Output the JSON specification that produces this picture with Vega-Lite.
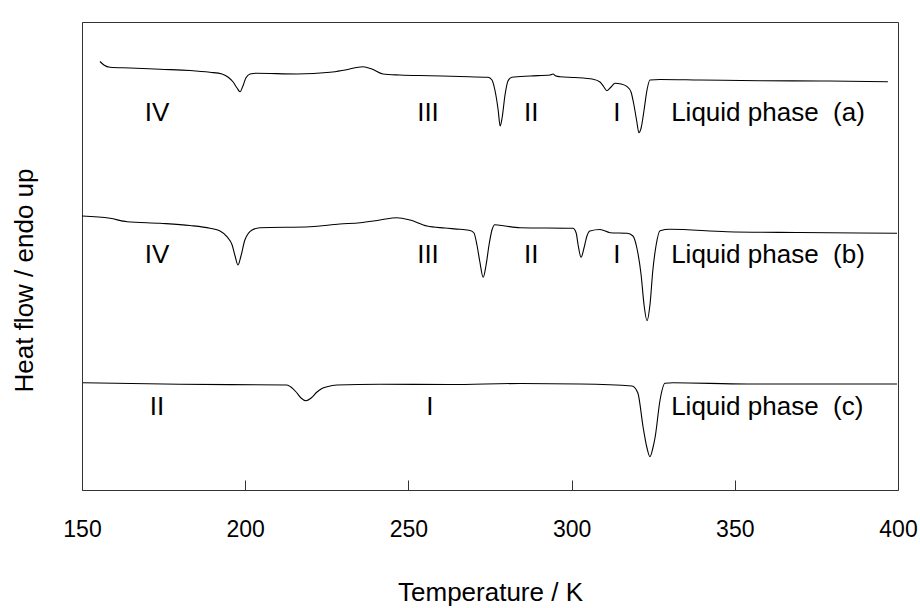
{
  "$schema": "https://vega.github.io/schema/vega-lite/v6.json",
  "width": 816,
  "height": 468,
  "autosize": {"type": "none"},
  "padding": {"left": 82, "top": 22, "right": 22, "bottom": 118},
  "background": "white",
  "config": {
    "view": {"stroke": "#333333", "strokeWidth": 1},
    "font": "Liberation Sans",
    "axis": {"grid": false, "domainColor": "#333333", "tickColor": "#333333", "labelColor": "black", "titleColor": "black", "titleFontWeight": "normal", "labelFont": "Liberation Sans", "titleFont": "Liberation Sans"}
  },
  "datasets": {
    "curves": [
      {"s": "a", "T": 155.5, "v": 428.5}, {"s": "a", "T": 156.7, "v": 425}, {"s": "a", "T": 158.6, "v": 422.7}, {"s": "a", "T": 164.7, "v": 422}, {"s": "a", "T": 173.9, "v": 420.7}, {"s": "a", "T": 183.1, "v": 419.5}, {"s": "a", "T": 189.2, "v": 417.7}, {"s": "a", "T": 192.9, "v": 416}, {"s": "a", "T": 194.7, "v": 413}, {"s": "a", "T": 196.3, "v": 408}, {"s": "a", "T": 197.5, "v": 402}, {"s": "a", "T": 198.4, "v": 398.3}, {"s": "a", "T": 199.3, "v": 404}, {"s": "a", "T": 200.2, "v": 412}, {"s": "a", "T": 201.5, "v": 416}, {"s": "a", "T": 203.3, "v": 416.7}, {"s": "a", "T": 215.9, "v": 416}, {"s": "a", "T": 226.0, "v": 417.7}, {"s": "a", "T": 230.6, "v": 420}, {"s": "a", "T": 236.1, "v": 423.3}, {"s": "a", "T": 238.8, "v": 421}, {"s": "a", "T": 242.2, "v": 416}, {"s": "a", "T": 247.4, "v": 415}, {"s": "a", "T": 256.6, "v": 414.3}, {"s": "a", "T": 265.8, "v": 413.5}, {"s": "a", "T": 274.4, "v": 412.7}, {"s": "a", "T": 275.6, "v": 410}, {"s": "a", "T": 276.5, "v": 400}, {"s": "a", "T": 277.5, "v": 380}, {"s": "a", "T": 278.1, "v": 364}, {"s": "a", "T": 278.7, "v": 372}, {"s": "a", "T": 279.6, "v": 395}, {"s": "a", "T": 280.5, "v": 409}, {"s": "a", "T": 281.7, "v": 412.7}, {"s": "a", "T": 287.3, "v": 414}, {"s": "a", "T": 293.4, "v": 415}, {"s": "a", "T": 294.3, "v": 416}, {"s": "a", "T": 295.2, "v": 414}, {"s": "a", "T": 296.4, "v": 413.3}, {"s": "a", "T": 301.0, "v": 412.5}, {"s": "a", "T": 306.6, "v": 410.7}, {"s": "a", "T": 308.7, "v": 408}, {"s": "a", "T": 309.9, "v": 403}, {"s": "a", "T": 310.8, "v": 399.3}, {"s": "a", "T": 312.1, "v": 403}, {"s": "a", "T": 313.3, "v": 406.7}, {"s": "a", "T": 315.1, "v": 406}, {"s": "a", "T": 317.0, "v": 403.3}, {"s": "a", "T": 318.2, "v": 398}, {"s": "a", "T": 319.1, "v": 385}, {"s": "a", "T": 320.0, "v": 368}, {"s": "a", "T": 320.6, "v": 357.3}, {"s": "a", "T": 321.3, "v": 362}, {"s": "a", "T": 322.2, "v": 380}, {"s": "a", "T": 323.1, "v": 400}, {"s": "a", "T": 324.0, "v": 410}, {"s": "a", "T": 327.1, "v": 410.5}, {"s": "a", "T": 339.3, "v": 410}, {"s": "a", "T": 357.7, "v": 409.3}, {"s": "a", "T": 376.1, "v": 409}, {"s": "a", "T": 396.9, "v": 408.3},
      {"s": "b", "T": 150.0, "v": 274}, {"s": "b", "T": 158.6, "v": 271.7}, {"s": "b", "T": 163.8, "v": 268.3}, {"s": "b", "T": 173.9, "v": 266.7}, {"s": "b", "T": 183.1, "v": 264.5}, {"s": "b", "T": 189.2, "v": 261.7}, {"s": "b", "T": 192.3, "v": 259}, {"s": "b", "T": 194.4, "v": 253.3}, {"s": "b", "T": 196.0, "v": 245}, {"s": "b", "T": 196.9, "v": 234}, {"s": "b", "T": 197.8, "v": 225}, {"s": "b", "T": 198.7, "v": 234}, {"s": "b", "T": 199.9, "v": 250}, {"s": "b", "T": 202.1, "v": 260}, {"s": "b", "T": 204.5, "v": 262.3}, {"s": "b", "T": 219.9, "v": 263.3}, {"s": "b", "T": 229.0, "v": 266}, {"s": "b", "T": 235.2, "v": 267.3}, {"s": "b", "T": 241.3, "v": 270}, {"s": "b", "T": 246.5, "v": 272.3}, {"s": "b", "T": 250.5, "v": 270}, {"s": "b", "T": 255.7, "v": 264}, {"s": "b", "T": 261.2, "v": 262}, {"s": "b", "T": 265.8, "v": 260.7}, {"s": "b", "T": 268.9, "v": 259.5}, {"s": "b", "T": 270.1, "v": 257}, {"s": "b", "T": 271.0, "v": 245}, {"s": "b", "T": 271.9, "v": 228}, {"s": "b", "T": 272.9, "v": 212.7}, {"s": "b", "T": 273.8, "v": 225}, {"s": "b", "T": 274.7, "v": 245}, {"s": "b", "T": 275.6, "v": 260}, {"s": "b", "T": 276.5, "v": 265.3}, {"s": "b", "T": 279.6, "v": 264}, {"s": "b", "T": 284.2, "v": 262.3}, {"s": "b", "T": 300.4, "v": 261.7}, {"s": "b", "T": 301.4, "v": 257}, {"s": "b", "T": 302.0, "v": 245}, {"s": "b", "T": 302.9, "v": 232.7}, {"s": "b", "T": 303.8, "v": 242}, {"s": "b", "T": 304.7, "v": 254}, {"s": "b", "T": 305.6, "v": 259}, {"s": "b", "T": 308.7, "v": 260.5}, {"s": "b", "T": 311.8, "v": 257.3}, {"s": "b", "T": 317.0, "v": 256.7}, {"s": "b", "T": 318.8, "v": 254}, {"s": "b", "T": 320.0, "v": 242}, {"s": "b", "T": 321.3, "v": 215}, {"s": "b", "T": 322.2, "v": 185}, {"s": "b", "T": 323.1, "v": 169.3}, {"s": "b", "T": 324.0, "v": 185}, {"s": "b", "T": 324.9, "v": 220}, {"s": "b", "T": 325.9, "v": 245}, {"s": "b", "T": 327.1, "v": 259.3}, {"s": "b", "T": 330.1, "v": 260.7}, {"s": "b", "T": 347.6, "v": 258.3}, {"s": "b", "T": 370.0, "v": 257.5}, {"s": "b", "T": 399.7, "v": 256.7},
      {"s": "c", "T": 150.3, "v": 107.3}, {"s": "c", "T": 180.0, "v": 105.7}, {"s": "c", "T": 212.8, "v": 105}, {"s": "c", "T": 214.0, "v": 103}, {"s": "c", "T": 215.6, "v": 98}, {"s": "c", "T": 217.1, "v": 92}, {"s": "c", "T": 218.6, "v": 89.3}, {"s": "c", "T": 220.2, "v": 92}, {"s": "c", "T": 222.0, "v": 98}, {"s": "c", "T": 223.5, "v": 101.5}, {"s": "c", "T": 225.1, "v": 103.3}, {"s": "c", "T": 228.1, "v": 105}, {"s": "c", "T": 241.3, "v": 105.7}, {"s": "c", "T": 262.7, "v": 105.5}, {"s": "c", "T": 284.2, "v": 106.5}, {"s": "c", "T": 302.6, "v": 106}, {"s": "c", "T": 318.5, "v": 104}, {"s": "c", "T": 320.3, "v": 97}, {"s": "c", "T": 321.9, "v": 63}, {"s": "c", "T": 323.1, "v": 42}, {"s": "c", "T": 324.0, "v": 33.3}, {"s": "c", "T": 324.9, "v": 42}, {"s": "c", "T": 325.6, "v": 53}, {"s": "c", "T": 327.1, "v": 90}, {"s": "c", "T": 328.6, "v": 106.7}, {"s": "c", "T": 331.1, "v": 107.3}, {"s": "c", "T": 353.7, "v": 106}, {"s": "c", "T": 399.7, "v": 106}
    ],
    "labels": [
      {"T": 173.0, "v": 377, "text": "IV"},
      {"T": 256.0, "v": 377, "text": "III"},
      {"T": 287.6, "v": 377, "text": "II"},
      {"T": 313.9, "v": 377, "text": "I"},
      {"T": 173.0, "v": 235, "text": "IV"},
      {"T": 256.0, "v": 235, "text": "III"},
      {"T": 287.6, "v": 235, "text": "II"},
      {"T": 313.9, "v": 235, "text": "I"},
      {"T": 173.0, "v": 83, "text": "II"},
      {"T": 256.6, "v": 83, "text": "I"}
    ],
    "liquid": [
      {"T": 330.5, "v": 377, "text": "Liquid phase\u00a0 (a)"},
      {"T": 330.5, "v": 235, "text": "Liquid phase\u00a0 (b)"},
      {"T": 330.5, "v": 83, "text": "Liquid phase\u00a0 (c)"}
    ]
  },
  "layer": [
    {
      "data": {"name": "curves"},
      "mark": {"type": "line", "color": "black", "strokeWidth": 1.1, "interpolate": "monotone"},
      "encoding": {
        "x": {"field": "T", "type": "quantitative", "scale": {"domain": [150, 400], "nice": false},
          "axis": {"title": "Temperature / K", "values": [150, 200, 250, 300, 350, 400], "offset": -10, "domain": false, "tickSize": 10, "labelPadding": 46, "labelBaseline": "alphabetic", "labelFontSize": 23, "labelFlush": false, "titleFontSize": 26, "titleY": 120, "titleBaseline": "alphabetic"}},
        "y": {"field": "v", "type": "quantitative", "scale": {"domain": [0, 468], "nice": false},
          "axis": {"title": "Heat flow / endo up", "ticks": false, "labels": false, "titleFontSize": 26, "titleX": -50, "titleY": 258, "titleAngle": -90, "titleBaseline": "alphabetic", "titleAlign": "center"}},
        "detail": {"field": "s"}
      }
    },
    {
      "data": {"name": "labels"},
      "mark": {"type": "text", "fontSize": 26, "color": "black", "align": "center", "baseline": "middle", "font": "Liberation Sans"},
      "encoding": {
        "x": {"field": "T", "type": "quantitative"},
        "y": {"field": "v", "type": "quantitative"},
        "text": {"field": "text"}
      }
    },
    {
      "data": {"name": "liquid"},
      "mark": {"type": "text", "fontSize": 26, "color": "black", "align": "left", "baseline": "middle", "font": "Liberation Sans"},
      "encoding": {
        "x": {"field": "T", "type": "quantitative"},
        "y": {"field": "v", "type": "quantitative"},
        "text": {"field": "text"}
      }
    }
  ]
}
